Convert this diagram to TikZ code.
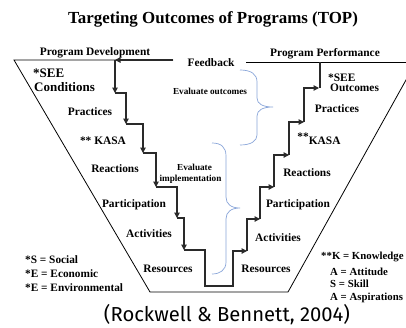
\documentclass[tikz,border=0pt]{standalone}
\usepackage{fontspec}
\setmainfont{Liberation Serif}
\newfontfamily\citefont{Fira Sans}
\usetikzlibrary{arrows.meta}
\definecolor{bracecol}{HTML}{8AA6DA}
\definecolor{stepcol}{HTML}{2A2A2A}
\tikzset{
  frameline/.style={draw=black, line width=0.8pt},
  stepline/.style={draw=stepcol, line width=1.1pt, -{Triangle[length=5.5pt,width=5.5pt]}},
  plainstep/.style={draw=stepcol, line width=1.1pt},
  bracel/.style={draw=bracecol, line width=0.7pt},
  lbl/.style={font=\fontsize{11.4}{12}\selectfont\bfseries, inner sep=0pt, anchor=base},
  bigl/.style={font=\fontsize{13}{14}\selectfont\bfseries, inner sep=0pt, anchor=base west},
  evl/.style={font=\fontsize{9.2}{10}\selectfont\bfseries, inner sep=0pt, anchor=base},
  leg/.style={font=\fontsize{11.3}{12}\selectfont\bfseries, inner sep=0pt, anchor=base west},
  legr/.style={font=\fontsize{10.8}{12}\selectfont\bfseries, inner sep=0pt, anchor=base west},
}
\begin{document}
\begin{tikzpicture}[x=1pt,y=-1pt]
\useasboundingbox (0,0) rectangle (406,327);
\clip (0,0) rectangle (406,327);
\fill[white] (0,0) rectangle (406,327);

% title
\node[font=\fontsize{16.9}{18}\selectfont\bfseries, inner sep=0pt, anchor=base] (title) at (213,23.5) {Targeting Outcomes of Programs (TOP)};

% frame corners
\coordinate (TL) at (14,60);
\coordinate (BL) at (150,292);
\coordinate (BR) at (288,292);
\coordinate (TR) at (416,62);
\coordinate (FB) at (173,60);
\coordinate (PP) at (246,62);
\coordinate (PE) at (406,62);
\draw[frameline] (FB) -- (TL) -- (BL) -- (BR) -- (TR);
\draw[frameline] (PP) -- (PE);

% left (descending) steps
\coordinate (l0) at (115,60);
\coordinate (l1) at (115,93);
\coordinate (l2) at (126,124);
\coordinate (l3) at (143,153);
\coordinate (l4) at (156,187);
\coordinate (l5) at (177,218);
\coordinate (l6) at (184,250);
\coordinate (b1) at (205,286);
\coordinate (b2) at (233,286);
\draw[stepline] (FB) -- (l0);
\draw[stepline] (l0) -- (l1);
\draw[stepline] (l1) -| (l2);
\draw[stepline] (l2) -| (l3);
\draw[stepline] (l3) -| (l4);
\draw[stepline] (l4) -| (l5);
\draw[stepline] (l5) -| (l6);
% right (ascending) steps
\coordinate (r1) at (247,251);
\coordinate (r2) at (260,219);
\coordinate (r3) at (274,187);
\coordinate (r4) at (289,155);
\coordinate (r5) at (304,122);
\coordinate (r6) at (319,88);
\coordinate (rt) at (320,62);
\draw[stepline] (l6) -| (b1) -- (b2) |- (r1);
\draw[stepline] (r1) |- (r2);
\draw[stepline] (r2) |- (r3);
\draw[stepline] (r3) |- (r4);
\draw[stepline] (r4) |- (r5);
\draw[stepline] (r5) |- (r6);
\draw[plainstep] (rt) -- (rt |- r6);

% braces
\draw[bracel] (240,70) .. controls (251,70) and (257,74) .. (257,82) -- (257,98)
  .. controls (257,104) and (263,107) .. (273,107)
  .. controls (263,107) and (257,110) .. (257,116) -- (257,135)
  .. controls (257,141) and (251,145) .. (240,145);
\draw[bracel] (212,143) .. controls (221,143) and (226,147) .. (226,156) -- (226,197)
  .. controls (226,204) and (231,208) .. (240,208)
  .. controls (231,208) and (226,212) .. (226,219) -- (226,262)
  .. controls (226,270) and (220,274) .. (212,274);

% headings
\node[lbl] (pd) at (95,55) {Program Development};
\node[lbl] (pp) at (325,56) {Program Performance};
\node[lbl] (fb) at (211,66) {Feedback};

% left labels
\node[bigl] (see1) at (33,77.5) {*SEE};
\node[bigl] (cond) at (34,91.5) {Conditions};
\node[lbl] (lprac) at (90,115) {Practices};
\node[lbl] (lkasa) at (103,144) {** KASA};
\node[lbl] (lreac) at (115,172) {Reactions};
\node[lbl] (lpart) at (134,207) {Participation};
\node[lbl] (lact) at (149,237) {Activities};
\node[lbl] (lres) at (168,272) {Resources};

% right labels
\node[lbl, anchor=base west] (see2) at (328,81) {*SEE};
\node[lbl, anchor=base west] (outc) at (330,91.5) {Outcomes};
\node[lbl] (rprac) at (337,112) {Practices};
\node[lbl] (rkasa) at (319,144) {\raisebox{4pt}{**}KASA};
\node[lbl] (rreac) at (307,176) {Reactions};
\node[lbl] (rpart) at (298,207) {Participation};
\node[lbl] (ract) at (278,241) {Activities};
\node[lbl] (rres) at (266,272) {Resources};

% evaluate labels
\node[evl] (evo) at (210,94.5) {Evaluate outcomes};
\node[evl] (evi1) at (194.5,170.5) {Evaluate};
\node[evl] (evi2) at (190.5,181.5) {implementation};

% legends
\node[leg] (lg1) at (25,263) {*S = Social};
\node[leg] (lg2) at (25,277) {*E = Economic};
\node[leg] (lg3) at (25,291) {*E = Environmental};
\node[legr] (rg1) at (321,259) {**K = Knowledge};
\node[legr] (rg2) at (330,275) {A = Attitude};
\node[legr] (rg3) at (330,287.5) {S = Skill};
\node[legr] (rg4) at (330,300) {A = Aspirations};

% citation
\node[inner sep=0pt, anchor=center] (cite) at (227,315) {\resizebox{246pt}{!}{\citefont (Rockwell \& Bennett, 2004)}};
\end{tikzpicture}
\end{document}
